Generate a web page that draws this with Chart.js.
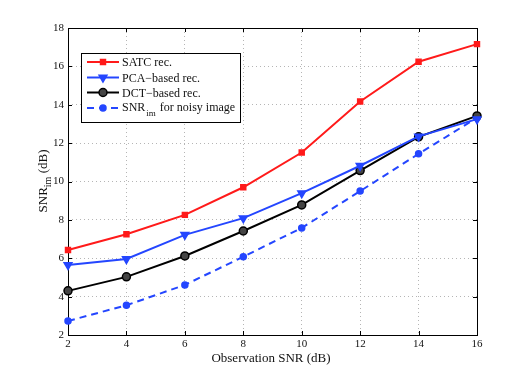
<!DOCTYPE html>
<html>
<head>
<meta charset="utf-8">
<script src="https://cdn.jsdelivr.net/npm/chart.js@4.4.1/dist/chart.umd.min.js"></script>
<style>
  html, body { margin: 0; padding: 0; background: #fff; }
  #wrap { width: 526px; height: 377px; }
</style>
</head>
<body>
<div id="wrap"><canvas id="grafik" width="526" height="377"></canvas></div>
<script>
const xValues = [2, 4, 6, 8, 10, 12, 14, 16];
const satcRec = [6.43, 7.25, 8.26, 9.70, 11.51, 14.17, 16.24, 17.16];
const pcaRec = [5.65, 5.96, 7.22, 8.09, 9.39, 10.82, 12.35, 13.25];
const dctRec = [4.30, 5.03, 6.12, 7.42, 8.78, 10.57, 12.33, 13.42];
const noisyImg = [2.73, 3.55, 4.61, 6.08, 7.58, 9.50, 11.44, 13.32];
const xTicks = [2, 4, 6, 8, 10, 12, 14, 16];
const yTicks = [2, 4, 6, 8, 10, 12, 14, 16, 18];

const RED = "#ff1a1a";
const BLUE = "#2446ff";
const SERIF = "'Liberation Serif', 'DejaVu Serif', serif";

function pts(arr) {
    return xValues.map((x, i) => ({ x: x, y: arr[i] }));
}

const series = [
    { label: "SATC rec.", data: pts(satcRec), color: RED, style: "rect", fill: RED, radius: 3.5, dash: [] },
    { label: "PCA\u2212based rec.", data: pts(pcaRec), color: BLUE, style: "triangle", fill: BLUE, radius: 4.5, rot: 180, dash: [] },
    { label: "DCT\u2212based rec.", data: pts(dctRec), color: "#000", style: "circle", fill: "#444", radius: 4, dash: [] },
    { label: "noisy", data: pts(noisyImg), color: BLUE, style: "circle", fill: BLUE, radius: 3, dash: [7, 5] }
];

// frame, inward ticks, axis titles, legend
const rahmen = {
    id: "rahmen",
    beforeDatasetsDraw(chart) {
        const { ctx, chartArea: a, scales } = chart;
        ctx.save();
        ctx.setLineDash([]);
        ctx.strokeStyle = "#000";
        ctx.lineWidth = 1;
        ctx.strokeRect(a.left + 0.5, a.top + 0.5, a.right - a.left, a.bottom - a.top);
        ctx.beginPath();
        xTicks.forEach(t => {
            const px = Math.round(scales.x.getPixelForValue(t)) + 0.5;
            ctx.moveTo(px, a.bottom); ctx.lineTo(px, a.bottom - 4);
            ctx.moveTo(px, a.top); ctx.lineTo(px, a.top + 4);
        });
        yTicks.forEach(t => {
            const py = Math.round(scales.y.getPixelForValue(t)) + 0.5;
            ctx.moveTo(a.left, py); ctx.lineTo(a.left + 4, py);
            ctx.moveTo(a.right, py); ctx.lineTo(a.right - 4, py);
        });
        ctx.stroke();
        ctx.restore();
    },
    afterDraw(chart) {
        const { ctx } = chart;
        ctx.save();
        ctx.fillStyle = "#111";
        ctx.textBaseline = "alphabetic";

        // x title
        ctx.font = "13px " + SERIF;
        ctx.textAlign = "center";
        ctx.fillText("Observation SNR (dB)", 271, 362);

        // y title with subscript
        ctx.translate(47, 181);
        ctx.rotate(-Math.PI / 2);
        ctx.textAlign = "left";
        ctx.font = "13px " + SERIF;
        const w1 = ctx.measureText("SNR").width;
        const w3 = ctx.measureText(" (dB)").width;
        ctx.font = "10px " + SERIF;
        const w2 = ctx.measureText("im").width;
        let x0 = -(w1 + w2 + w3) / 2;
        ctx.font = "13px " + SERIF;
        ctx.fillText("SNR", x0, 0);
        ctx.font = "10px " + SERIF;
        ctx.fillText("im", x0 + w1, 4);
        ctx.font = "13px " + SERIF;
        ctx.fillText(" (dB)", x0 + w1 + w2, 0);
        ctx.restore();

        // legend
        ctx.save();
        ctx.setLineDash([]);
        ctx.fillStyle = "#fff";
        ctx.fillRect(81, 53, 159, 69);
        ctx.strokeStyle = "#000";
        ctx.lineWidth = 1;
        ctx.strokeRect(81.5, 53.5, 159, 69);
        const rows = [62, 77.5, 92.5, 108];
        series.forEach((s, i) => {
            const y = rows[i];
            ctx.strokeStyle = s.color;
            ctx.lineWidth = 2;
            ctx.setLineDash(s.dash);
            ctx.beginPath();
            ctx.moveTo(87, y); ctx.lineTo(119, y);
            ctx.stroke();
            ctx.setLineDash([]);
            ctx.fillStyle = s.fill;
            ctx.lineWidth = 1.5;
            Chart.helpers.drawPoint(ctx, { pointStyle: s.style, radius: s.radius, rotation: s.rot || 0, borderWidth: 1.5 }, 103, y);
            ctx.fillStyle = "#111";
            ctx.font = "12px " + SERIF;
            ctx.textAlign = "left";
            ctx.textBaseline = "middle";
            if (i < 3) {
                ctx.fillText(s.label, 122, y + 1);
            } else {
                ctx.fillText("SNR", 122, y);
                const a = ctx.measureText("SNR").width;
                ctx.font = "9px " + SERIF;
                ctx.fillText("im", 123 + a, y + 6);
                const b = ctx.measureText("im").width;
                ctx.font = "12px " + SERIF;
                ctx.fillText(" for noisy image", 124 + a + b, y);
            }
        });
        ctx.restore();
    }
};

new Chart(document.getElementById("grafik"), {
    type: "line",
    data: {
        datasets: series.map(s => ({
            label: s.label,
            data: s.data,
            borderColor: s.color,
            backgroundColor: s.fill,
            borderWidth: 2,
            borderDash: s.dash,
            pointStyle: s.style,
            pointRadius: s.radius,
            pointRotation: s.rot || 0,
            pointBorderColor: s.color,
            pointBackgroundColor: s.fill,
            pointBorderWidth: 1.5,
            tension: 0,
            clip: false
        }))
    },
    options: {
        responsive: false,
        animation: false,
        layout: { padding: { left: 0, right: 49, top: 28, bottom: 0 } },
        plugins: { legend: { display: false }, tooltip: { enabled: false } },
        scales: {
            x: {
                type: "linear",
                min: 2, max: 16,
                afterBuildTicks: s => { s.ticks = xTicks.map(v => ({ value: v })); },
                afterFit: s => { s.height = 42; },
                ticks: { color: "#111", font: { family: SERIF, size: 11 }, padding: 3 },
                grid: { color: "#b5b5b5", drawTicks: false },
                border: { display: false, dash: [1, 3] }
            },
            y: {
                min: 2, max: 18,
                afterBuildTicks: s => { s.ticks = yTicks.map(v => ({ value: v })); },
                afterFit: s => { s.width = 68; },
                ticks: { color: "#111", font: { family: SERIF, size: 11 }, padding: 4 },
                grid: { color: "#b5b5b5", drawTicks: false },
                border: { display: false, dash: [1, 3] }
            }
        }
    },
    plugins: [rahmen]
});
</script>
</body>
</html>
